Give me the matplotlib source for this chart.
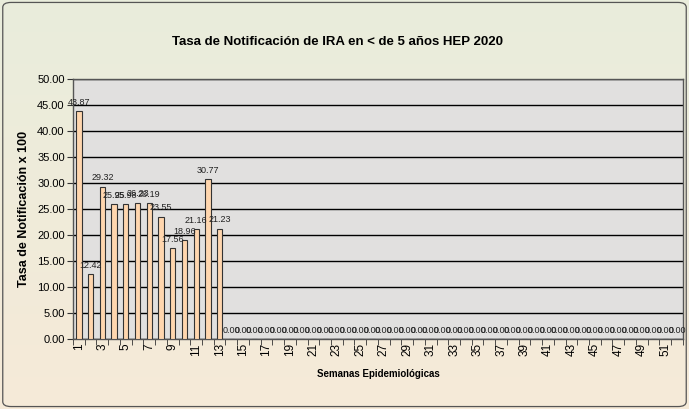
import numpy as np
import matplotlib.pyplot as plt
from matplotlib.patches import FancyBboxPatch

plt.rcParams['font.family'] = ['Liberation Sans', 'DejaVu Sans']

weeks = list(range(1, 53))
rates_first = [43.87, 12.42, 29.32, 25.95, 25.98, 26.23, 26.19,
               23.55, 17.56, 18.96, 21.16, 30.77, 21.23]
rates = rates_first + [0.0] * (len(weeks) - len(rates_first))
yticks = [0, 5, 10, 15, 20, 25, 30, 35, 40, 45, 50]

fig = plt.figure(figsize=(6.89, 4.09), dpi=100)

# gradient background for the whole chart area
bg = fig.add_axes([0, 0, 1, 1], zorder=-10)
grad = np.linspace(0, 1, 256).reshape(-1, 1)
top_col = np.array([233, 237, 220]) / 255
bot_col = np.array([246, 234, 216]) / 255
img = top_col[None, None, :] * (1 - grad[:, :, None]) + bot_col[None, None, :] * grad[:, :, None]
bg.imshow(img, aspect='auto', extent=[0, 1, 0, 1], origin='upper')
bg.add_patch(FancyBboxPatch((0.004, 0.006), 0.992, 0.988,
                            boxstyle="round,pad=0,rounding_size=0.012",
                            fc='none', ec='#555555', lw=0.9, transform=bg.transAxes))
bg.set_xlim(0, 1)
bg.set_ylim(0, 1)
bg.axis('off')

ax = fig.add_axes([0.106, 0.171, 0.885, 0.636])
ax.set_facecolor('#E1E0DF')
x = np.arange(len(weeks))
ax.bar(x, rates, width=0.45, color='#FFD6AE', edgecolor='#333333', linewidth=0.8, zorder=3)

for xi, v in zip(x, rates):
    ax.text(xi, v + 0.8, f"{v:.2f}", ha='center', va='bottom', fontsize=6.5,
            color='#222222', zorder=4)

ax.set_xlim(-0.5, len(weeks) - 0.5)
ax.set_ylim(0, 50)
ax.set_yticks(yticks)
ax.set_yticklabels([f"{t:.2f}" for t in yticks], fontsize=8)
ax.yaxis.grid(True, color='black', linewidth=1.0, zorder=1)
ax.set_axisbelow(True)

ax.set_xticks(x[::2])
ax.set_xticklabels([str(w) for w in weeks[::2]], rotation=90, fontsize=8.5)
ax.set_xticks(np.arange(len(weeks) + 1) - 0.5, minor=True)
ax.tick_params(axis='x', which='major', length=0, pad=3)
ax.tick_params(axis='x', which='minor', length=4, color='#333333')
ax.tick_params(axis='y', length=4, color='#333333', pad=2)

for s in ax.spines.values():
    s.set_color('#555555')
    s.set_linewidth(1.0)

ax.set_xlabel("Semanas Epidemiológicas", fontsize=7, fontweight='bold', labelpad=9)
ax.set_ylabel("Tasa de Notificación x 100", fontsize=9, fontweight='bold', labelpad=5)
fig.text(0.49, 0.897, "Tasa de Notificación de IRA en < de 5 años HEP 2020",
         ha='center', va='center', fontsize=9.5, fontweight='bold')

fig.savefig("out.png", dpi=100)
